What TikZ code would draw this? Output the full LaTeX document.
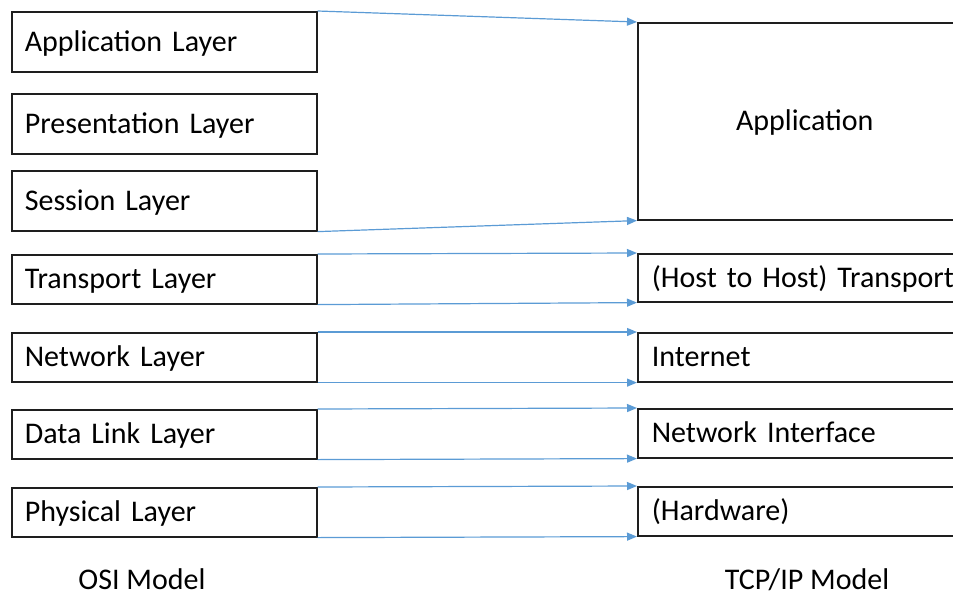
\documentclass[tikz,border=0pt]{standalone}
\usepackage{fontspec}
\setmainfont{Carlito}
\usetikzlibrary{arrows.meta}
\definecolor{linkblue}{RGB}{91,155,213}
\definecolor{boxline}{RGB}{30,30,30}
\begin{document}
\begin{tikzpicture}[x=1pt,y=-1pt,
  font=\fontsize{30}{36}\selectfont,
  layer/.style={draw=boxline, line width=1.6pt, anchor=north west,
    minimum width=305pt, text width=279pt, inner xsep=13pt, inner ysep=0pt,
    align=left, text height=19.3pt, text depth=0pt},
  tcpbox/.style={draw=boxline, line width=1.6pt, anchor=north west,
    minimum width=334pt, text width=306pt, inner xsep=14pt, inner ysep=0pt,
    align=left, text height=19.3pt, text depth=0pt},
  link/.style={draw=linkblue, line width=1.2pt, -{Triangle[length=10pt,width=8pt]}},
  caption/.style={text height=19.3pt, text depth=0pt, inner sep=0pt}]
  \useasboundingbox (0,0) rectangle (953,603);
  \clip (0,0) rectangle (953,603);

  % OSI stack
  \node[layer, minimum height=60pt] (app)  at (11,11)  {Application Layer};
  \node[layer, minimum height=60pt] (pres) at (11,93)  {Presentation Layer};
  \node[layer, minimum height=60pt] (sess) at (11,170) {Session Layer};
  \node[layer, minimum height=49pt] (tran) at (11,254) {Transport Layer};
  \node[layer, minimum height=49pt] (netw) at (11,332) {Network Layer};
  \node[layer, minimum height=49pt] (link) at (11,409) {Data Link Layer};
  \node[layer, minimum height=49pt] (phys) at (11,487) {Physical Layer};

  % TCP/IP stack
  \node[tcpbox, minimum height=197pt, align=center] (tapp) at (637,22) {Application};
  \node[tcpbox, minimum height=48pt] (ttran) at (637,253) {(Host to Host) Transport};
  \node[tcpbox, minimum height=49pt] (tnet)  at (637,332) {Internet};
  \node[tcpbox, minimum height=49pt] (tlink) at (637,408) {Network Interface};
  \node[tcpbox, minimum height=49pt] (thw)   at (637,486) {(Hardware)};

  % correspondence arrows
  \draw[link] (app.north east)  -- (tapp.north west);
  \draw[link] (sess.south east) -- (tapp.south west);
  \draw[link] (tran.north east) -- (ttran.north west);
  \draw[link] (tran.south east) -- (ttran.south west);
  \draw[link] (netw.north east) -- (tnet.north west);
  \draw[link] (netw.south east) -- (tnet.south west);
  \draw[link] (link.north east) -- (tlink.north west);
  \draw[link] (link.south east) -- (tlink.south west);
  \draw[link] (phys.north east) -- (thw.north west);
  \draw[link] (phys.south east) -- (thw.south west);

  % captions
  \node[caption] (osi) at (142,580) {OSI Model};
  \node[caption] (tcp) at (807,580) {TCP/IP Model};
\end{tikzpicture}
\end{document}
